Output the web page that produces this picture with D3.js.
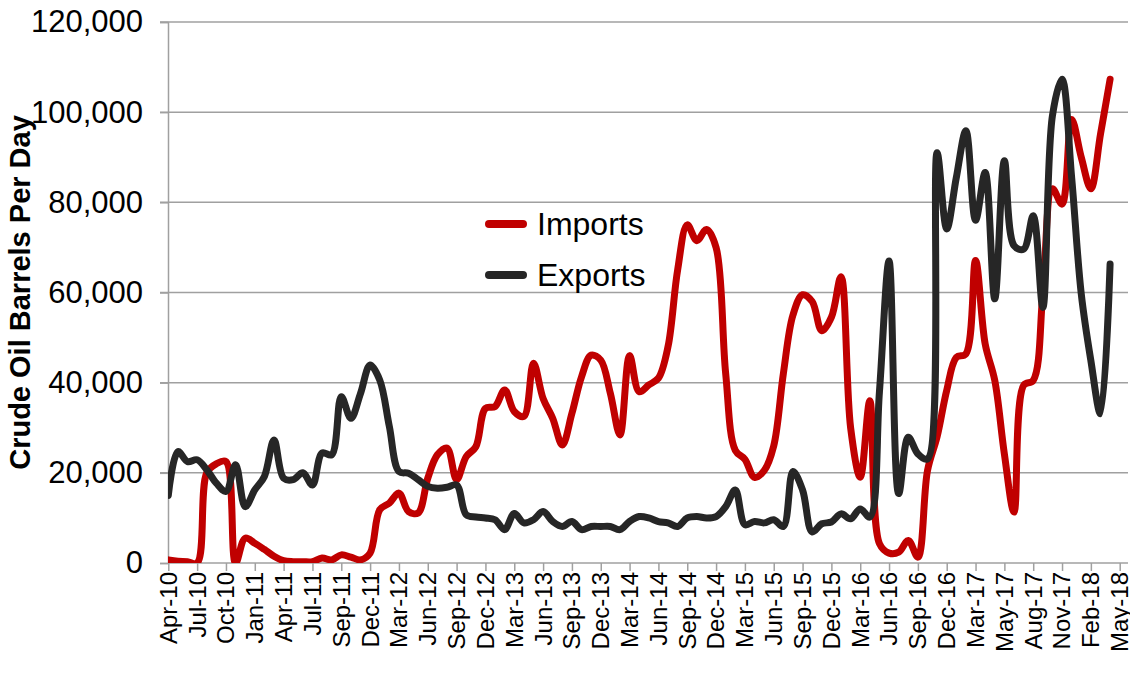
<!DOCTYPE html>
<html>
<head>
<meta charset="utf-8">
<script src="https://cdn.jsdelivr.net/npm/d3@7"></script>
<style>
  html, body { margin: 0; padding: 0; background: #fff; }
  svg { display: block; font-family: "Liberation Sans", Arial, sans-serif; }
</style>
</head>
<body>
<svg id="chart" width="1130" height="677"></svg>
<script>
// ---- data ----
const tickLabels = ["Apr-10","Jul-10","Oct-10","Jan-11","Apr-11","Jul-11","Sep-11","Dec-11",
  "Mar-12","Jun-12","Sep-12","Dec-12","Mar-13","Jun-13","Sep-13","Dec-13","Mar-14","Jun-14",
  "Sep-14","Dec-14","Mar-15","Jun-15","Sep-15","Dec-15","Mar-16","Jun-16","Sep-16","Dec-16",
  "Mar-17","May-17","Aug-17","Nov-17","Feb-18","May-18"];
const yTicks = [0, 20000, 40000, 60000, 80000, 100000, 120000];
const seriesNames = ["Imports", "Exports"];

const imports = [700,400,300,0,20000,22000,22500,0,5500,4400,
  3000,1500,500,300,300,300,1100,700,1800,1300,
  700,2200,11800,13300,15500,11400,11100,18800,24000,25500,
  18500,23600,25800,34300,34700,38400,33600,32500,44300,36500,
  32100,26200,33200,41300,46100,45000,37600,28400,46000,38000,
  39500,41000,48000,65000,75000,71500,74000,70000,42000,25000,
  23000,19000,20500,26000,42000,55000,59500,58000,51500,54500,
  63500,30000,19000,36000,4300,2200,2400,5000,1300,20500,
  28000,38300,45600,46400,67100,48600,40500,24200,11300,39400,
  40500,59700,83000,79600,98400,90000,83000,95100,107300];

const exports_ = [15000,24700,22500,22900,20700,17700,15900,21800,12500,16200,
  19200,27300,18800,18500,20000,17300,24400,24000,36900,32100,
  37600,43900,40600,30300,20300,19900,18500,17000,16600,16800,
  17300,10700,10200,10000,9600,7400,11000,8900,9600,11400,
  9200,8100,9200,7400,8100,8100,8100,7400,9200,10300,
  10000,9200,8900,8100,10000,10300,10000,10300,12500,16200,
  8500,9200,8900,9600,8100,20300,16200,6900,8700,9100,
  10900,9800,12000,10200,38000,67000,15400,27900,24200,23100,
  91000,74100,85500,95900,76000,86600,58600,89200,70400,69600,
  77000,56700,99200,107300,85500,59700,44900,33100,66300];

const colors = ["#C00000", "#262626"];

// ---- layout ----
const svg = d3.select("#chart");
const plot = { left: 168, top: 22, right: 1128, bottom: 563 };
const labelStep = 3;

const x = d3.scaleLinear()
  .domain([0, (tickLabels.length - 1) * labelStep])
  .range([168.3, 1119.7]);
const y = d3.scaleLinear().domain([0, 120000]).range([plot.bottom, plot.top]);

svg.append("rect").attr("width", 1130).attr("height", 677).attr("fill", "#fff");

// gridlines
svg.append("g").selectAll("line").data(yTicks.filter(d => d > 0)).join("line")
  .attr("x1", plot.left - 8).attr("x2", plot.right)
  .attr("y1", d => y(d)).attr("y2", d => y(d))
  .attr("stroke", "#a0a0a0").attr("stroke-width", 1.5);

// y axis
const yAxis = d3.axisLeft(y).tickValues(yTicks).tickSize(8).tickPadding(17)
  .tickFormat(d3.format(","));
const gy = svg.append("g").attr("transform", `translate(${plot.left},0)`).call(yAxis);
gy.select(".domain").attr("stroke", "#a0a0a0").attr("stroke-width", 1.5);
gy.selectAll(".tick line").attr("stroke", "#a0a0a0").attr("stroke-width", 1.5);
gy.selectAll(".tick text").attr("font-size", 31).attr("fill", "#000")
  .attr("font-family", "'Liberation Sans', Arial, sans-serif");

// x axis
const xAxis = d3.axisBottom(x)
  .tickValues(tickLabels.map((d, i) => i * labelStep))
  .tickSize(8).tickSizeOuter(0)
  .tickFormat((d) => tickLabels[d / labelStep]);
const gx = svg.append("g").attr("transform", `translate(0,${plot.bottom})`).call(xAxis);
gx.select(".domain").attr("d", `M${plot.left},0H${plot.right}`)
  .attr("stroke", "#a0a0a0").attr("stroke-width", 1.5);
gx.selectAll(".tick line").attr("stroke", "#a0a0a0").attr("stroke-width", 1.5);
gx.selectAll(".tick text")
  .attr("font-size", 24).attr("fill", "#000")
  .attr("font-family", "'Liberation Sans', Arial, sans-serif")
  .attr("text-anchor", "end")
  .attr("transform", "rotate(-90)")
  .attr("x", -9).attr("y", 0).attr("dy", "0.33em");

// y title
svg.append("text")
  .attr("transform", `translate(30,${(plot.top + plot.bottom) / 2}) rotate(-90)`)
  .attr("text-anchor", "middle")
  .attr("font-size", 29).attr("font-weight", "bold").attr("fill", "#000")
  .text("Crude Oil Barrels Per Day");

// clip
svg.append("clipPath").attr("id", "clip").append("rect")
  .attr("x", plot.left).attr("y", plot.top - 10)
  .attr("width", plot.right - plot.left).attr("height", plot.bottom - plot.top + 10);

const line = d3.line()
  .x((d, i) => x(i)).y(d => y(d))
  .curve(d3.curveCatmullRom.alpha(0.5));

const series = [imports, exports_];
const gLines = svg.append("g").attr("clip-path", "url(#clip)");
series.forEach((s, k) => {
  gLines.append("path").datum(s)
    .attr("d", line)
    .attr("fill", "none")
    .attr("stroke", colors[k])
    .attr("stroke-width", 7)
    .attr("stroke-linejoin", "round")
    .attr("stroke-linecap", "round");
});

// legend
const legend = svg.append("g");
seriesNames.forEach((name, k) => {
  const ly = 224 + k * 51;
  legend.append("line")
    .attr("x1", 489).attr("x2", 523).attr("y1", ly).attr("y2", ly)
    .attr("stroke", colors[k]).attr("stroke-width", 8).attr("stroke-linecap", "round");
  legend.append("text")
    .attr("x", 537).attr("y", ly + 11)
    .attr("font-size", 32).attr("fill", "#000")
    .text(name);
});
</script>
</body>
</html>
